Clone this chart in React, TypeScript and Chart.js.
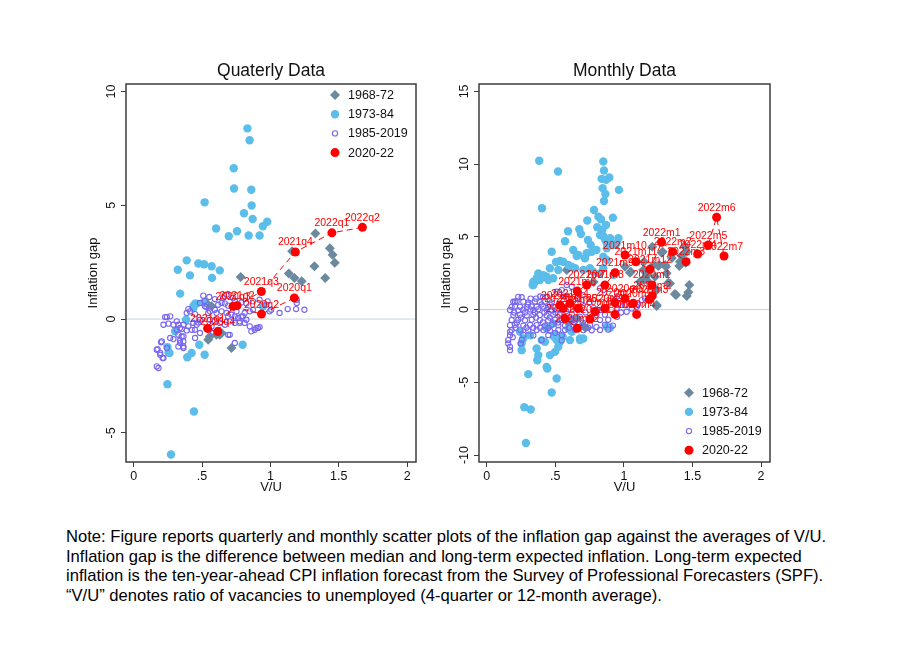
import React, { useEffect, useRef } from 'react';
import { Chart, registerables } from 'chart.js';

Chart.register(...registerables);

// ---------------- DATA ----------------
const xTickValues = [0, 0.5, 1, 1.5, 2];
const xTickLabels = ['0', '.5', '1', '1.5', '2'];
const quarterlyYTicks = [-5, 0, 5, 10];
const monthlyYTicks = [-10, -5, 0, 5, 10, 15];
const seriesNames = ['1968-72', '1973-84', '1985-2019', '2020-22'];

// Quarterly panel
const quarterly6872: [number, number][] = [
  [1.329, 3.76], [1.435, 3.11], [1.455, 2.83], [1.471, 2.47], [1.159, 2.98], [1.322, 2.32],
  [1.401, 1.81], [1.135, 2.0], [1.176, 1.81], [1.229, 1.66], [0.783, 1.85], [0.715, -1.27],
  [0.557, -0.76], [0.606, -0.69], [0.643, -0.61], [0.545, 0.63], [0.57, 0.56], [0.545, -0.91],
  [0.63, -0.69],
];
const quarterly7384: [number, number][] = [
  [0.832, 8.38], [0.848, 7.86], [0.732, 6.63], [0.734, 5.74], [0.86, 5.68], [0.519, 5.13],
  [0.863, 4.99], [0.807, 4.65], [0.87, 4.4], [0.977, 4.28], [0.945, 4.08], [0.603, 3.98],
  [0.756, 3.86], [0.696, 3.64], [0.841, 3.67], [0.921, 3.67], [0.388, 2.58], [0.323, 2.17],
  [0.473, 2.44], [0.515, 2.41], [0.57, 2.32], [0.63, 2.14], [0.412, 1.92], [0.573, 1.81],
  [0.34, 1.12], [0.449, 0.68], [0.515, 0.73], [0.437, 0.49], [0.383, -0.03], [0.303, -0.54],
  [0.48, -1.13], [0.247, -1.23], [0.262, -1.49], [0.392, -1.68], [0.424, -1.49], [0.519, -1.57],
  [0.797, -1.13], [0.945, 0.56], [0.247, -2.86], [0.441, -4.06], [0.273, -5.95], [0.436, 0.56],
  [0.461, 0.68], [0.255, -1.46],
];
const quarterly8519: [number, number][] = [
  [0.509, 1.03], [0.553, 0.97], [0.594, 0.88], [0.618, 0.63], [0.643, 0.71], [0.667, 0.68],
  [0.691, 0.59], [0.485, 0.71], [0.521, 0.56], [0.388, 0.27], [0.412, 0.34], [0.449, 0.22],
  [0.23, 0.09], [0.267, 0.12], [0.218, -0.25], [0.255, -0.2], [0.291, -0.25], [0.327, -0.25],
  [0.364, -0.25], [0.4, -0.32], [0.436, -0.17], [0.473, -0.15], [0.315, -0.47], [0.352, -0.44],
  [0.388, -0.5], [0.425, -0.47], [0.327, -0.69], [0.364, -0.76], [0.267, -0.83], [0.291, -0.88],
  [0.34, -1.05], [0.364, -0.98], [0.449, -0.83], [0.485, -0.61], [0.206, -0.98], [0.243, -1.27],
  [0.169, -1.35], [0.194, -1.57], [0.218, -1.71], [0.327, -1.2], [0.364, -1.27], [0.169, -2.08],
  [0.182, -2.15], [0.606, 0.27], [0.643, 0.34], [0.679, 0.27], [0.716, 0.19], [0.74, 0.12],
  [0.764, 0.05], [0.788, 0.12], [0.812, 0.27], [0.849, 0.34], [0.873, 0.41], [0.703, -0.1],
  [0.74, -0.17], [0.776, -0.1], [0.812, -0.17], [0.849, -0.32], [0.558, 0.34], [0.594, 0.41],
  [0.558, -0.03], [0.594, -0.1], [0.63, -0.17], [0.667, -0.25], [0.861, -0.54], [0.885, -0.47],
  [0.909, -0.39], [0.74, -1.05], [0.691, -0.69], [0.618, -0.47], [1.067, 0.27], [1.127, 0.44],
  [1.188, 0.44], [1.249, 0.41], [0.994, 0.34], [0.825, 0.68], [0.788, 0.73], [0.764, 0.63],
  [0.873, 0.78], [0.921, 0.85], [0.97, 0.63], [1.193, 0.71], [1.193, 0.85], [0.679, 1.07],
  [0.654, 0.93], [0.727, 0.93], [0.52, 0.8], [0.243, 0.09], [0.2, -1.02], [0.175, -1.32],
  [0.212, -1.71], [0.194, -1.49], [0.315, -0.1], [0.339, -0.39], [0.351, -0.76], [0.339, -0.94],
  [0.363, -1.2], [0.4, 0.44], [0.448, -0.47], [0.46, -0.25], [0.485, -0.03], [0.533, 0.53],
  [0.545, 0.27], [0.57, -0.32], [0.582, -0.61], [0.69, 0.12], [0.775, -0.17], [0.8, 0.12],
  [0.824, -0.03], [0.897, -0.39], [0.921, -0.35], [1.006, 0.41], [0.98, 0.78], [0.74, 0.8],
  [0.752, 0.34], [0.703, -0.69],
];
const quarterly2022: [number, number][] = [
  [1.175, 0.93], [0.935, 0.22], [0.727, 0.56], [0.615, -0.55], [0.541, -0.41],
  [0.756, 0.59], [0.934, 1.21], [1.183, 2.95], [1.45, 3.79], [1.673, 4.03],
];
const quarterlyLabels = [
  '2020q1', '2020q2', '2020q3', '2020q4', '2021q1',
  '2021q2', '2021q3', '2021q4', '2022q1', '2022q2',
];

// Monthly panel
const monthly6872: [number, number][] = [
  [1.207, 4.32], [1.283, 3.98], [1.445, 4.32], [1.458, 3.98], [1.404, 3.0], [1.258, 3.06],
  [1.307, 2.95], [1.215, 3.06], [1.336, 1.8], [1.477, 1.69], [1.38, 1.0], [1.458, 0.93],
  [1.05, 2.6], [1.147, 3.29], [1.117, 1.92], [1.166, 2.03], [1.239, 0.24], [0.583, 2.72],
  [1.409, 3.29], [1.45, 3.22], [1.166, 2.38], [1.227, 2.26], [1.372, 1.07], [1.141, 2.72],
  [1.312, 2.49], [1.137, 2.03], [1.324, 1.85], [1.239, 1.34], [1.008, 2.95], [1.25, 3.0],
  [1.3, 3.06], [1.275, 3.91], [1.239, 0.31], [1.044, 2.54], [0.58, -0.75], [0.62, -0.7],
  [0.66, -0.6], [0.72, -1.25], [0.7, -1.1], [0.6, -0.9], [0.78, 1.9], [1.35, 3.55],
  [1.42, 3.7], [1.47, 1.2],
];
const monthly7384: [number, number][] = [
  [0.383, 10.23], [0.85, 10.18], [0.52, 9.49], [0.855, 9.56], [0.838, 8.99], [0.894, 9.08],
  [0.87, 8.92], [0.845, 8.35], [0.964, 8.23], [0.865, 7.95], [0.855, 7.47], [0.403, 6.97],
  [0.782, 6.85], [0.814, 6.39], [0.833, 6.21], [0.92, 6.32], [0.733, 6.12], [0.87, 5.82],
  [0.806, 5.66], [0.675, 5.52], [0.687, 5.2], [0.593, 5.39], [0.843, 5.48], [0.826, 5.13],
  [0.96, 4.9], [0.738, 4.79], [0.758, 4.44], [0.571, 4.7], [0.862, 4.83], [0.875, 4.56],
  [0.8, 4.1], [0.765, 3.98], [0.631, 4.1], [0.656, 3.68], [0.474, 3.98], [0.875, 4.21],
  [0.716, 3.52], [0.534, 3.34], [0.505, 3.27], [0.558, 3.29], [0.875, 3.41], [0.461, 2.84],
  [0.522, 2.72], [0.644, 2.84], [0.704, 2.72], [0.753, 2.84], [0.85, 2.84], [0.668, 3.75],
  [0.729, 3.87], [0.85, 3.64], [0.62, 2.95], [0.777, 2.6], [0.826, 2.49], [0.923, 2.37],
  [0.595, 3.06], [0.376, 2.49], [0.413, 2.37], [0.437, 2.26], [0.34, 1.92], [0.388, 2.03],
  [0.34, 1.69], [0.485, -0.95], [0.243, -1.53], [0.316, -1.76], [0.437, -1.29], [0.498, -1.76],
  [0.51, -2.1], [0.255, -2.79], [0.364, -2.67], [0.376, -3.13], [0.461, -3.13], [0.498, -2.91],
  [0.522, -2.56], [0.68, -1.99], [0.704, -1.99], [0.437, -3.94], [0.369, -3.48], [0.303, -4.44],
  [0.51, -4.74], [0.474, -5.7], [0.274, -6.71], [0.321, -6.87], [0.286, -9.17], [0.534, -2.22],
  [0.554, -1.87], [0.425, -2.22], [0.401, -2.1], [0.49, -1.87], [0.875, -1.18], [0.899, -1.25],
  [0.9, 4.9], [0.92, 4.44], [0.947, 4.56], [0.85, 5.06], [0.607, -2.1], [0.68, -2.1],
  [0.595, -1.29], [0.62, -1.53], [0.335, 1.69], [0.352, 1.91], [0.364, 2.15], [0.413, 2.26],
  [0.449, 2.03], [0.485, 2.15], [0.267, -1.99], [0.255, -2.33], [0.442, -4.05],
];
const monthly8519: [number, number][] = [
  [0.23, 0.88], [0.255, 0.85], [0.39, 0.9], [0.41, 0.85], [0.44, 0.88],
  [0.194, 0.54], [0.219, 0.56], [0.267, 0.54], [0.303, 0.5], [0.352, 0.56], [0.388, 0.52],
  [0.425, 0.55], [0.474, 0.5], [0.182, 0.19], [0.206, 0.22], [0.243, 0.19], [0.292, 0.17],
  [0.328, 0.21], [0.364, 0.19], [0.413, 0.2], [0.449, 0.16], [0.485, 0.19], [0.17, -0.03],
  [0.23, -0.05], [0.267, 0.0], [0.34, -0.03], [0.376, 0.02], [0.437, -0.03], [0.474, -0.05],
  [0.51, 0.0], [0.826, -0.03], [0.85, 0.02], [0.194, -0.38], [0.243, -0.35], [0.292, -0.4],
  [0.34, -0.36], [0.388, -0.38], [0.437, -0.4], [0.485, -0.35], [0.534, -0.38], [0.8, -0.38],
  [0.862, -0.35], [0.182, -0.72], [0.23, -0.7], [0.279, -0.74], [0.328, -0.7], [0.388, -0.72],
  [0.449, -0.75], [0.498, -0.7], [0.547, -0.72], [0.607, -0.7], [0.826, -0.72], [0.886, -0.7],
  [0.17, -1.07], [0.206, -1.05], [0.267, -1.1], [0.316, -1.05], [0.364, -1.07], [0.425, -1.1],
  [0.474, -1.05], [0.522, -1.07], [0.571, -1.1], [0.631, -1.05], [0.753, -1.07], [0.862, -1.05],
  [0.182, -1.41], [0.243, -1.38], [0.303, -1.43], [0.364, -1.4], [0.413, -1.41], [0.461, -1.44],
  [0.522, -1.4], [0.571, -1.41], [0.644, -1.38], [0.704, -1.41], [0.765, -1.42], [0.826, -1.4],
  [0.886, -1.38], [0.17, -1.76], [0.267, -1.74], [0.34, -1.78], [0.449, -1.76], [0.547, -1.75],
  [0.157, -2.1], [0.255, -2.08], [0.401, -2.1], [0.547, -2.12], [0.248, -2.33], [0.17, -2.56],
  [0.17, -2.79], [0.157, -2.33], [0.17, -1.53], [0.51, 1.23], [0.547, 1.34], [0.826, 1.46],
  [0.85, 1.34], [0.583, 1.69], [0.62, 1.57], [0.206, 0.54], [0.947, 0.08], [1.008, 0.31],
  [1.02, -0.15], [1.057, 0.08], [1.13, 0.65], [1.154, 0.77], [1.093, 0.19], [0.3, 0.35],
  [0.32, 0.0], [0.35, -0.2], [0.4, 0.35], [0.42, -0.2], [0.46, 0.35], [0.5, -0.2],
  [0.55, 0.2], [0.58, -0.1], [0.6, 0.35], [0.62, -0.3], [0.65, 0.1], [0.68, -0.5],
  [0.7, 0.3], [0.72, -0.2], [0.75, 0.5], [0.78, 0.1], [0.25, -0.55], [0.28, -0.2],
  [0.36, -0.55], [0.41, -0.88], [0.46, -0.55], [0.52, -0.88], [0.56, -0.5], [0.64, -0.85],
  [0.7, -0.9], [0.22, -0.9], [0.29, -1.25], [0.34, -1.25], [0.39, -1.25], [0.45, -1.25],
  [0.5, -1.6], [0.6, -1.25], [0.66, -1.2], [0.74, -1.25], [0.8, -1.2], [0.92, -1.1],
  [0.95, -0.5], [0.98, -0.2], [1.05, 0.45], [1.1, 0.35], [0.9, 0.6], [0.95, 0.9],
  [0.66, 0.8], [0.7, 1.0], [0.57, 0.9], [0.32, 0.75], [0.36, 0.75], [0.2, -0.2],
  [0.21, -1.25], [0.19, -1.9],
];
const monthly2022: [number, number][] = [
  [1.203, 1.69], [1.207, 0.95], [1.185, 0.7], [1.093, -0.33], [1.069, 0.43], [1.008, 0.77],
  [0.935, 0.47], [0.935, -0.33], [0.862, 0.08], [0.789, -0.15], [0.753, -0.65], [0.66, -1.29],
  [0.571, -0.61], [0.534, 0.31], [0.558, 0.08], [0.607, 0.43], [0.668, 0.08], [0.66, 1.27],
  [0.729, 1.69], [0.862, 1.69], [0.935, 2.54], [1.008, 3.75], [1.088, 3.29], [1.19, 2.77],
  [1.275, 4.63], [1.356, 3.98], [1.453, 3.29], [1.538, 3.82], [1.615, 4.44], [1.676, 6.35],
  [1.73, 3.68],
];
const monthlyLabels = [
  '2020m1', '2020m2', '2020m3', '2020m4', '2020m5', '2020m6', '2020m7', '2020m8', '2020m9',
  '2020m10', '2020m11', '2020m12', '2021m1', '2021m2', '2021m3', '2021m4', '2021m5', '2021m6',
  '2021m7', '2021m8', '2021m9', '2021m10', '2021m11', '2021m12', '2022m1', '2022m2', '2022m3',
  '2022m4', '2022m5', '2022m6', '2022m7',
];

const noteLines = [
  'Note: Figure reports quarterly and monthly scatter plots of the inflation gap against the averages of V/U.',
  'Inflation gap is the difference between median and long-term expected inflation. Long-term expected',
  'inflation is the ten-year-ahead CPI inflation forecast from the Survey of Professional Forecasters (SPF).',
  '\u201CV/U\u201D denotes ratio of vacancies to unemployed (4-quarter or 12-month average).',
];

// ---------------- STYLE ----------------
const FONT = '"Liberation Sans", Arial, Helvetica, sans-serif';
const C_EARLY = '#6b8aa0';
const C_MID = '#5bbde9';
const C_LONG = '#7766f0';
const C_RECENT = '#ff0000';
const C_FRAME = '#3c3c3c';
const C_ZERO = '#c3d6e4';
const C_TEXT = '#111111';

type Panel = {
  title: string;
  pad: { left: number; right: number; top: number; bottom: number };
  yMin: number;
  yMax: number;
  yTicks: number[];
  early: [number, number][];
  mid: [number, number][];
  long: [number, number][];
  recent: [number, number][];
  labels: string[];
  legendTop: boolean;
};

const panels: Panel[] = [
  {
    title: 'Quaterly Data',
    pad: { left: 86, right: 484, top: 84, bottom: 23 },
    yMin: -6.28, yMax: 10.33, yTicks: quarterlyYTicks,
    early: quarterly6872, mid: quarterly7384, long: quarterly8519, recent: quarterly2022,
    labels: quarterlyLabels, legendTop: true,
  },
  {
    title: 'Monthly Data',
    pad: { left: 439, right: 130, top: 84, bottom: 23 },
    yMin: -10.48, yMax: 15.51, yTicks: monthlyYTicks,
    early: monthly6872, mid: monthly7384, long: monthly8519, recent: monthly2022,
    labels: monthlyLabels, legendTop: false,
  },
];

function drawMarker(ctx: CanvasRenderingContext2D, ds: any, x: number, y: number) {
  const r = ds.pointRadius;
  ctx.save();
  ctx.beginPath();
  if (ds.pointStyle === 'rectRot') {
    ctx.moveTo(x, y - r);
    ctx.lineTo(x + r, y);
    ctx.lineTo(x, y + r);
    ctx.lineTo(x - r, y);
    ctx.closePath();
  } else {
    ctx.arc(x, y, r, 0, Math.PI * 2);
  }
  if (ds.pointBackgroundColor !== 'rgba(0,0,0,0)') {
    ctx.fillStyle = ds.pointBackgroundColor;
    ctx.fill();
  }
  if (ds.pointBorderWidth > 0) {
    ctx.lineWidth = ds.pointBorderWidth;
    ctx.strokeStyle = ds.pointBorderColor;
    ctx.stroke();
  }
  ctx.restore();
}

function rotatedText(ctx: CanvasRenderingContext2D, text: string, x: number, y: number) {
  ctx.save();
  ctx.translate(x, y);
  ctx.rotate(-Math.PI / 2);
  ctx.textAlign = 'center';
  ctx.textBaseline = 'alphabetic';
  ctx.fillText(text, 0, 0);
  ctx.restore();
}

function makeChart(canvas: HTMLCanvasElement, p: Panel) {
  const pts = (a: [number, number][]) => a.map(([x, y]) => ({ x, y }));
  const decor = {
    id: 'stataDecor',
    beforeDatasetsDraw(chart: any) {
      const { ctx, chartArea } = chart;
      const y0 = chart.scales.y.getPixelForValue(0);
      ctx.save();
      ctx.strokeStyle = C_ZERO;
      ctx.lineWidth = 1;
      ctx.beginPath();
      ctx.moveTo(chartArea.left, y0);
      ctx.lineTo(chartArea.right, y0);
      ctx.stroke();
      ctx.restore();
    },
    afterDatasetsDraw(chart: any) {
      const { ctx, chartArea } = chart;
      const { left, right, top, bottom } = chartArea;
      const xs = chart.scales.x;
      const ys = chart.scales.y;
      ctx.save();
      // point labels for recent period
      const red = chart.data.datasets[3];
      ctx.fillStyle = C_RECENT;
      ctx.font = `10.5px ${FONT}`;
      ctx.textAlign = 'center';
      ctx.textBaseline = 'alphabetic';
      red.data.forEach((d: any, i: number) => {
        const px = xs.getPixelForValue(d.x);
        const py = ys.getPixelForValue(d.y);
        ctx.fillText(p.labels[i], px, py - 6.5);
      });
      // frame
      ctx.strokeStyle = C_FRAME;
      ctx.lineWidth = 1.5;
      ctx.strokeRect(left, top, right - left, bottom - top);
      // y tick labels (rotated)
      ctx.fillStyle = C_TEXT;
      ctx.font = `12.5px ${FONT}`;
      p.yTicks.forEach((v) => rotatedText(ctx, String(v), left - 11.5, ys.getPixelForValue(v)));
      // axis titles
      ctx.font = `13px ${FONT}`;
      rotatedText(ctx, 'Inflation gap', left - 29, (top + bottom) / 2);
      ctx.textAlign = 'center';
      ctx.textBaseline = 'alphabetic';
      ctx.fillText('V/U', (left + right) / 2, 491);
      // title
      ctx.font = `17.5px ${FONT}`;
      ctx.fillText(p.title, (left + right) / 2, 76);
      // legend
      const mx = p.legendTop ? right - 81 : right - 81;
      const y0 = p.legendTop ? top + 11 : bottom - 69.3;
      const step = 19.2;
      ctx.font = `12.5px ${FONT}`;
      ctx.textAlign = 'left';
      ctx.textBaseline = 'middle';
      chart.data.datasets.forEach((ds: any, i: number) => {
        const yy = y0 + i * step;
        drawMarker(ctx, ds, mx, yy);
        ctx.fillStyle = C_TEXT;
        ctx.fillText(ds.label, mx + 13, yy + 0.5);
      });
      ctx.restore();
    },
  };

  return new Chart(canvas, {
    type: 'scatter',
    data: {
      datasets: [
        {
          label: seriesNames[0], data: pts(p.early), order: 4,
          pointStyle: 'rectRot', pointRadius: 5,
          pointBackgroundColor: C_EARLY, pointBorderColor: C_EARLY, pointBorderWidth: 0,
          backgroundColor: C_EARLY, borderColor: C_EARLY,
        },
        {
          label: seriesNames[1], data: pts(p.mid), order: 3,
          pointStyle: 'circle', pointRadius: 4.2,
          pointBackgroundColor: C_MID, pointBorderColor: C_MID, pointBorderWidth: 0,
          backgroundColor: C_MID, borderColor: C_MID,
        },
        {
          label: seriesNames[2], data: pts(p.long), order: 2,
          pointStyle: 'circle', pointRadius: 2.6,
          pointBackgroundColor: 'rgba(0,0,0,0)', pointBorderColor: C_LONG, pointBorderWidth: 1.1,
          backgroundColor: 'rgba(0,0,0,0)', borderColor: C_LONG,
        },
        {
          label: seriesNames[3], data: pts(p.recent), order: 1,
          pointStyle: 'circle', pointRadius: 4.5,
          pointBackgroundColor: C_RECENT, pointBorderColor: C_RECENT, pointBorderWidth: 0,
          backgroundColor: C_RECENT, borderColor: C_RECENT,
          showLine: true, borderWidth: 1, borderDash: [6, 4], tension: 0,
        },
      ] as any,
    },
    options: {
      responsive: false,
      animation: false,
      events: [],
      layout: { padding: p.pad, autoPadding: false },
      plugins: {
        legend: { display: false },
        tooltip: { enabled: false },
        title: { display: false },
      },
      scales: {
        x: {
          type: 'linear',
          position: 'bottom',
          min: -0.056,
          max: 2.065,
          afterBuildTicks: (s: any) => { s.ticks = xTickValues.map((v) => ({ value: v })); },
          afterFit: (s: any) => { s.height = 35; },
          border: { display: false },
          grid: { drawOnChartArea: false, drawTicks: true, tickLength: 5, color: C_FRAME, lineWidth: 1 },
          ticks: {
            autoSkip: false, maxRotation: 0, minRotation: 0, padding: 2, color: C_TEXT,
            font: { family: FONT, size: 12.5 },
            callback: (v: any) => xTickLabels[xTickValues.indexOf(Number(v))] ?? '',
          },
        },
        y: {
          type: 'linear',
          position: 'left',
          min: p.yMin,
          max: p.yMax,
          afterBuildTicks: (s: any) => { s.ticks = p.yTicks.map((v) => ({ value: v })); },
          afterFit: (s: any) => { s.width = 40; },
          border: { display: false },
          grid: { drawOnChartArea: false, drawTicks: true, tickLength: 5, color: C_FRAME, lineWidth: 1 },
          ticks: { display: false },
        },
      },
    } as any,
    plugins: [decor],
  });
}

function PanelCanvas({ panel }: { panel: Panel }) {
  const ref = useRef<HTMLCanvasElement | null>(null);
  useEffect(() => {
    if (!ref.current) return;
    const chart = makeChart(ref.current, panel);
    return () => chart.destroy();
  }, [panel]);
  return (
    <canvas
      ref={ref}
      width={900}
      height={520}
      style={{ position: 'absolute', left: 0, top: 0, width: 900, height: 520 }}
    />
  );
}

export default function App() {
  return (
    <div style={{ position: 'absolute', left: 0, top: 0, width: 900, height: 652, background: '#ffffff', overflow: 'hidden' }}>
      {panels.map((p) => (
        <PanelCanvas key={p.title} panel={p} />
      ))}
      <div
        style={{
          position: 'absolute', left: 66, top: 527, fontFamily: FONT, fontSize: 16.6,
          lineHeight: '19.7px', color: '#000', whiteSpace: 'nowrap',
        }}
      >
        {noteLines.map((t, i) => (
          <div key={i}>{t}</div>
        ))}
      </div>
    </div>
  );
}
